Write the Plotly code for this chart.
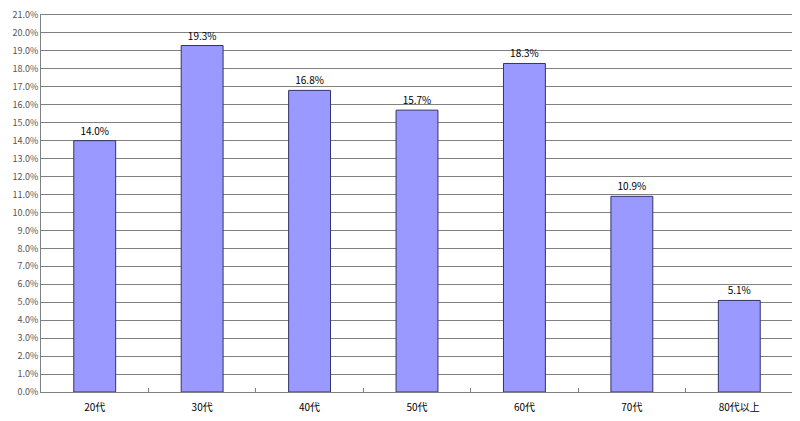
import plotly.graph_objects as go

categories = ["20代", "30代", "40代", "50代", "60代", "70代", "80代以上"]
values = [14.0, 19.3, 16.8, 15.7, 18.3, 10.9, 5.1]
labels = ["14.0%", "19.3%", "16.8%", "15.7%", "18.3%", "10.9%", "5.1%"]
yticks = [i for i in range(0, 22)]
yticklabels = [f"{v:.1f}%" for v in yticks]

fig = go.Figure(go.Bar(
    x=categories, y=values, text=labels, textposition="outside",
    textfont=dict(size=10, color="#000000"),
    marker=dict(color="#9999FF", line=dict(color="#333366", width=1)),
    width=0.39, cliponaxis=False,
))

# page body has an 8px default margin; figure sized to fit the 800x421 window
fig.update_layout(
    width=792, height=413,
    margin=dict(l=33, r=7, t=7, b=29),
    paper_bgcolor="white", plot_bgcolor="white",
    font=dict(family="Noto Sans CJK JP, Liberation Sans, sans-serif", size=9, color="#333333"),
    showlegend=False,
    xaxis=dict(showline=True, linecolor="#808080", mirror=True, ticks="inside", ticklen=4,
               tickcolor="#808080", tickson="boundaries", tickfont=dict(size=10, color="#000000"),
               showgrid=False, automargin=False, ticklabelstandoff=6),
    yaxis=dict(range=[0, 21], tickvals=yticks, ticktext=yticklabels, showgrid=True,
               gridcolor="#808080", gridwidth=1, showline=True, linecolor="#808080", mirror=True,
               ticks="", tickfont=dict(size=9, color="#555555"), zeroline=False, automargin=False),
)
fig.write_html("out.html")
